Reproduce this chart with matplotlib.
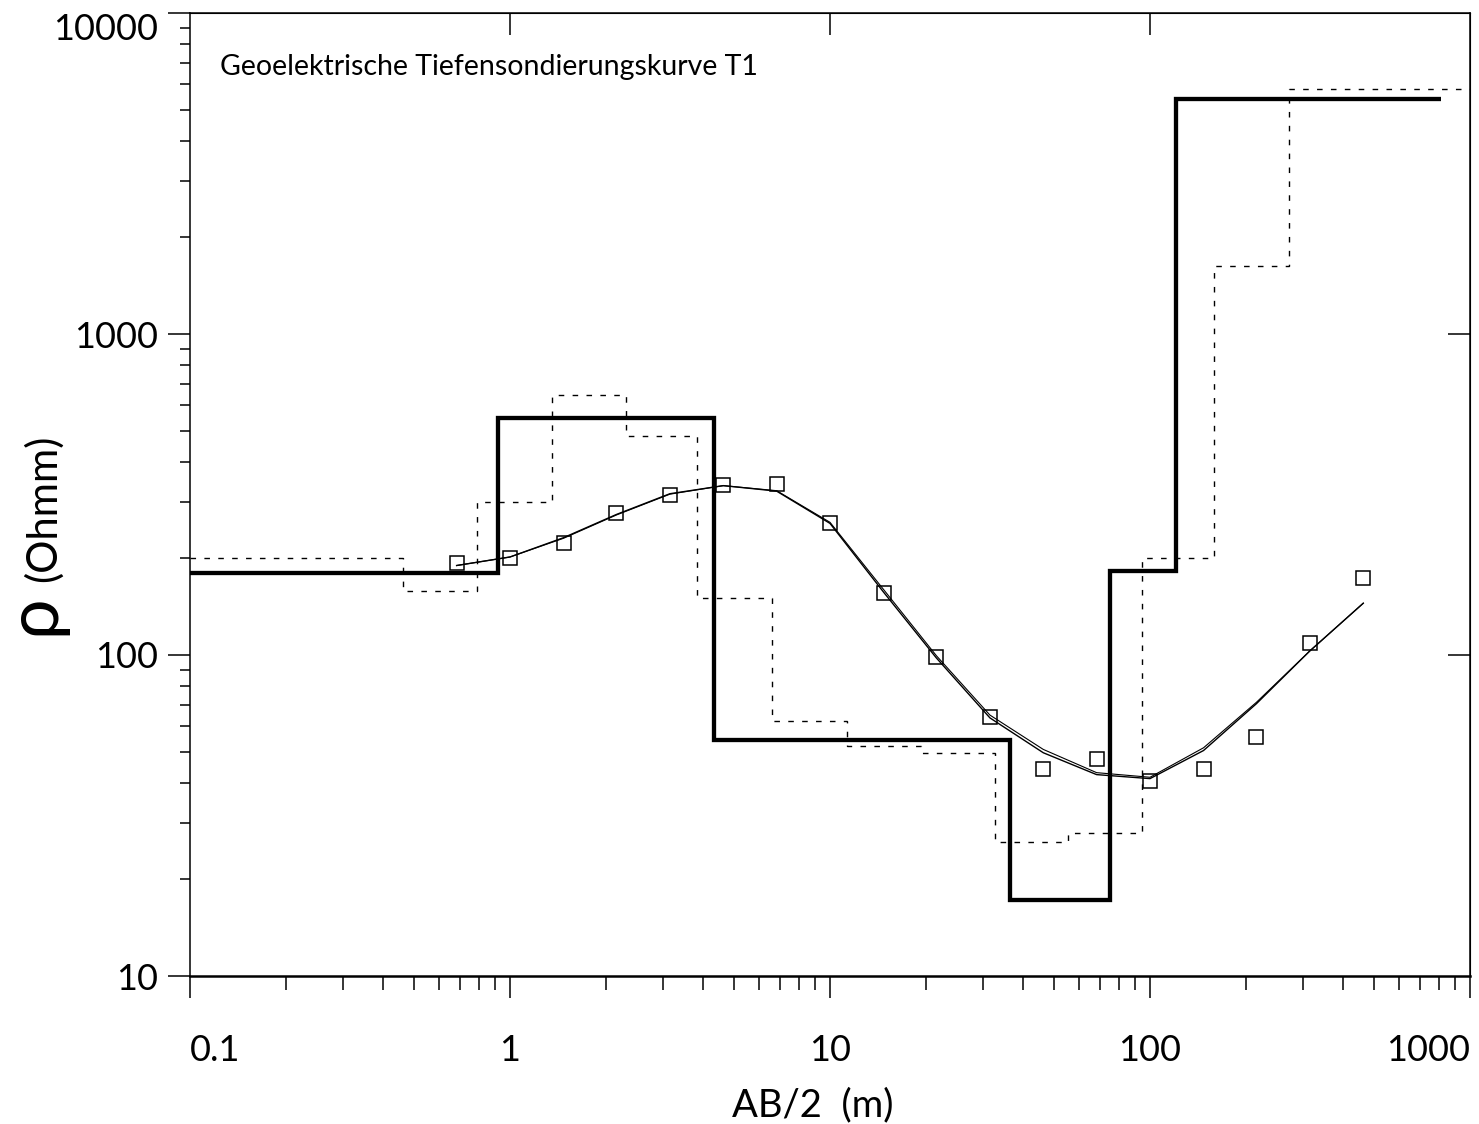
import matplotlib
matplotlib.use("Agg")
import matplotlib.pyplot as plt
from matplotlib.ticker import FixedLocator, LogLocator, NullFormatter, FixedFormatter

plt.rcParams['font.family'] = ['Lato', 'DejaVu Sans']

# ---- data ----
# measured apparent resistivity (AB/2 in m, rho_a in Ohmm)
meas_ab2 = [0.681, 1.0, 1.47, 2.15, 3.16, 4.64, 6.81, 10.0, 14.7, 21.5,
            31.6, 46.4, 68.1, 100.0, 147.0, 215.0, 316.0, 464.0]
meas_rho = [194, 201, 224, 276, 315, 339, 341, 257, 156, 98.6,
            64.1, 44.2, 47.5, 40.6, 44.2, 55.6, 109, 174]

# calculated sounding curves of the two models
calc1_rho = [190, 202, 232, 274, 318, 337, 324, 257, 157, 97.9,
             63.7, 49.6, 42.4, 41.2, 50.4, 70.5, 103, 145]
calc2_rho = [190, 202, 231, 273, 317, 337, 325, 259, 160, 99.5,
             65.0, 50.8, 43.0, 41.6, 51.4, 71.2, 103, 145]

# layer model (bold): layer boundaries (depth, m) and resistivities
model_edges = [0.1, 0.916, 4.33, 36.4, 75.1, 121, 812]
model_rho = [180, 547, 54.5, 17.2, 183, 5380]

# alternative (equivalent) model (dashed)
alt_edges = [0.1, 0.462, 0.787, 1.35, 2.30, 3.83, 6.61, 11.3, 19.2, 32.7,
             55.6, 94.6, 159, 272, 1000]
alt_rho = [201, 158, 299, 647, 480, 150, 62.4, 52.1, 49.6, 26.1,
           27.8, 201, 1630, 5780]

x_ticks = [0.1, 1, 10, 100, 1000]
x_ticklabels = ['0.1', '1', '10', '100', '1000']
y_ticks = [10, 100, 1000, 10000]
y_ticklabels = ['10', '100', '1000', '10000']

title_text = 'Geoelektrische Tiefensondierungskurve T1'

# ---- figure ----
W, H = 1479, 1124
fig = plt.figure(figsize=(W / 100, H / 100), dpi=100)
ax = fig.add_axes([190 / W, 1 - 976 / H, 1280 / W, 963 / H])
ax.set_xscale('log')
ax.set_yscale('log')
ax.set_xlim(0.1, 1000)
ax.set_ylim(10, 10000)

ax.stairs(model_rho, model_edges, baseline=None, color='black', lw=3.1)
ax.stairs(alt_rho, alt_edges, baseline=None, color='black', lw=1.0,
          linestyle=(0, (4, 6)))
ax.plot(meas_ab2, calc1_rho, color='black', lw=1.0)
ax.plot(meas_ab2, calc2_rho, color='black', lw=0.8)
ax.plot(meas_ab2, meas_rho, linestyle='none', marker='s', ms=9.5,
        mfc='none', mec='black', mew=1.1)

# axes styling
for side in ['top', 'right', 'left']:
    ax.spines[side].set_linewidth(1.1)
ax.spines['bottom'].set_linewidth(1.8)

ax.xaxis.set_major_locator(FixedLocator(x_ticks))
ax.xaxis.set_major_formatter(FixedFormatter(x_ticklabels))
ax.xaxis.set_minor_locator(LogLocator(base=10, subs=range(2, 10)))
ax.xaxis.set_minor_formatter(NullFormatter())
ax.yaxis.set_major_locator(FixedLocator(y_ticks))
ax.yaxis.set_major_formatter(FixedFormatter(y_ticklabels))
ax.yaxis.set_minor_locator(LogLocator(base=10, subs=range(2, 10)))
ax.yaxis.set_minor_formatter(NullFormatter())

ax.tick_params(axis='x', which='major', direction='out', length=16, width=1.1,
               labelsize=26, pad=26)
ax.tick_params(axis='x', which='minor', direction='out', length=10, width=1.1)
ax.tick_params(axis='y', which='major', direction='out', length=16, width=1.1,
               labelsize=26, pad=7)
ax.tick_params(axis='y', which='minor', direction='out', length=7, width=1.1)

xl = ax.get_xticklabels()
xl[0].set_ha('left')
xl[-1].set_ha('right')
yl = ax.get_yticklabels()
yl[-1].set_va('top')

# inward ticks on top and right
top = ax.secondary_xaxis('top')
top.set_xticks([1, 10, 100])
top.xaxis.set_minor_locator(FixedLocator([]))
top.tick_params(axis='x', which='major', direction='in', length=16, width=1.1,
                labeltop=False)
right = ax.secondary_yaxis('right')
right.set_yticks([100, 1000])
right.yaxis.set_minor_locator(FixedLocator([]))
right.tick_params(axis='y', which='major', direction='in', length=16, width=1.1,
                  labelright=False)

fig.text(220 / W, 1 - 67 / H, title_text, fontsize=20.5, ha='left', va='center')
fig.text(813 / W, 1 - 1105 / H, 'AB/2  (m)', fontsize=27.5, ha='center', va='center')
fig.text(34 / W, 1 - 615 / H, 'ρ', fontsize=52, rotation=90, ha='center', va='center')
fig.text(43 / W, 1 - 508 / H, '(Ohmm)', fontsize=30, rotation=90, ha='center', va='center')

fig.savefig('out.png', dpi=100)
